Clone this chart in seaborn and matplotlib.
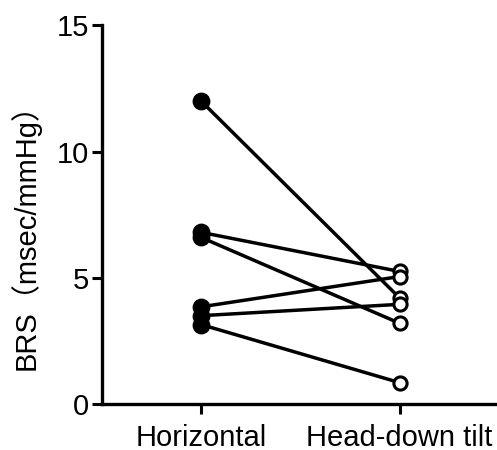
import matplotlib
matplotlib.use("Agg")
import matplotlib.pyplot as plt
import seaborn as sns
import pandas as pd

# paired BRS values per subject
conditions = ["Horizontal", "Head-down tilt"]
subjects = [1, 2, 3, 4, 5, 6]
horizontal = [12.0, 6.8, 6.6, 3.85, 3.5, 3.15]
head_down = [4.2, 5.25, 3.2, 5.05, 3.95, 0.85]
y_ticks = [0, 5, 10, 15]
y_label = "BRS（msec/mmHg）"

sns.set_style("ticks")
plt.rcParams["font.family"] = ["Liberation Sans", "Noto Sans CJK SC", "DejaVu Sans"]
plt.rcParams["text.color"] = "black"
plt.rcParams["xtick.color"] = "black"
plt.rcParams["ytick.color"] = "black"
plt.rcParams["axes.labelcolor"] = "black"

df = pd.DataFrame({
    "subject": subjects * 2,
    "condition": [conditions[0]] * len(subjects) + [conditions[1]] * len(subjects),
    "brs": horizontal + head_down,
})
df["pos"] = df["condition"].map({c: i for i, c in enumerate(conditions)})

fig = plt.figure(figsize=(4.97, 4.5), dpi=100)
ax = fig.add_axes([0.2046, 0.102, 0.7954, 0.842])

# connecting lines, one per subject
sns.lineplot(data=df, x="pos", y="brs", units="subject", estimator=None,
             color="black", linewidth=2.5, ax=ax, zorder=2, legend=False)

# filled markers for horizontal, open ones for head-down tilt
sns.scatterplot(data=df[df["condition"] == conditions[0]], x="pos", y="brs",
                color="black", edgecolor="black", s=140, linewidth=1, ax=ax, zorder=3)
sns.scatterplot(data=df[df["condition"] == conditions[1]], x="pos", y="brs",
                color="white", edgecolor="black", s=90, linewidth=2.2, ax=ax, zorder=3)

ax.set_xlim(-0.5, 1.49)
ax.set_ylim(0, 15)
ax.set_xticks([0, 1])
ax.set_xticklabels(conditions)
ax.set_yticks(y_ticks)
ax.set_xlabel("")
ax.set_ylabel(y_label, fontsize=21)
ax.yaxis.set_label_coords(-0.155, 0.46)

ax.tick_params(axis="both", labelsize=21, width=2.2, length=7, color="black", labelcolor="black")
ax.tick_params(axis="y", pad=2)
ax.tick_params(axis="x", pad=7)
for side in ["top", "right"]:
    ax.spines[side].set_visible(False)
for side in ["left", "bottom"]:
    ax.spines[side].set_linewidth(2.4)
    ax.spines[side].set_color("black")

fig.savefig("out.png", dpi=100, facecolor="white")
